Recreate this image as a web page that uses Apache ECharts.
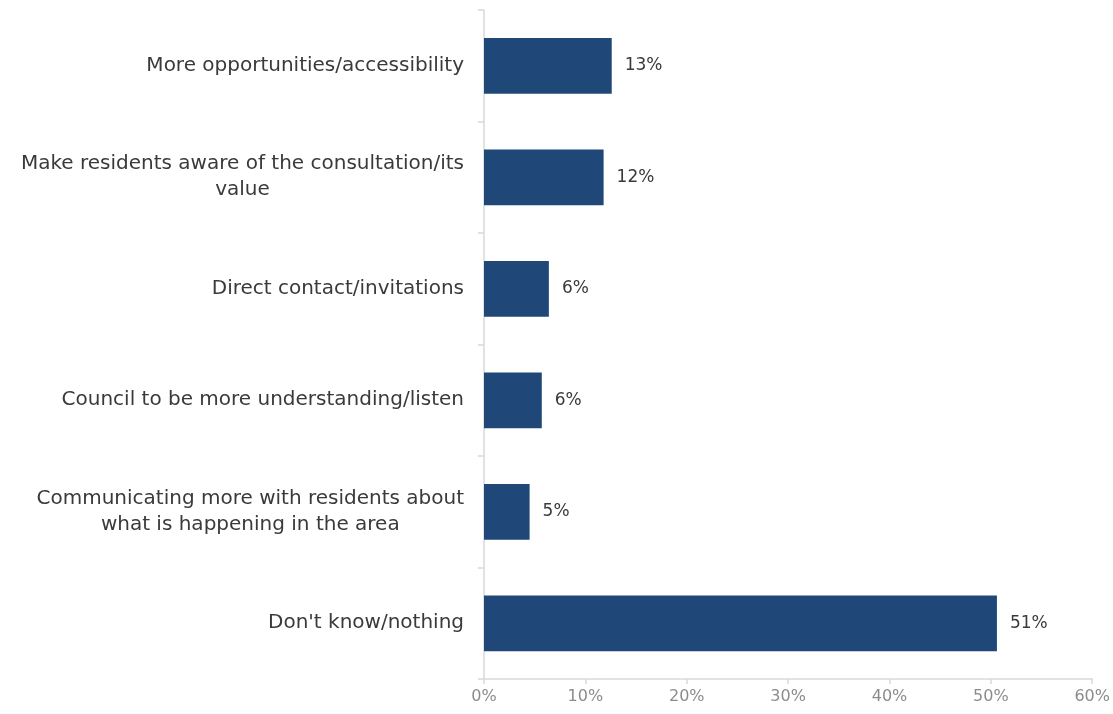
<!DOCTYPE html>
<html>
<head>
<meta charset="utf-8">
<script src="https://cdn.jsdelivr.net/npm/echarts@6/dist/echarts.min.js"></script>
<style>
  html, body { margin: 0; padding: 0; background: #ffffff; }
  #chart { width: 1113px; height: 714px; }
</style>
</head>
<body>
<div id="chart"></div>
<script>
// Suggested improvements to resident consultation (% of respondents)
const categories = [
  'More opportunities/accessibility',
  'Make residents aware of the consultation/its\nvalue',
  'Direct contact/invitations',
  'Council to be more understanding/listen',
  'Communicating more with residents about\nwhat is happening in the area',
  "Don't know/nothing"
];
const values = [12.6, 11.8, 6.4, 5.7, 4.5, 50.6];
const xTicks = { min: 0, max: 60, step: 10 };

const FONT = '"DejaVu Sans"';
const chart = echarts.init(document.getElementById('chart'));

chart.setOption({
  animation: false,
  grid: { left: 484, right: 18, top: 10, bottom: 35, containLabel: false },
  xAxis: {
    type: 'value',
    min: xTicks.min,
    max: xTicks.max,
    interval: xTicks.step,
    axisLine: { show: true, lineStyle: { color: '#d9d9d9', width: 1.5 } },
    axisTick: { show: true, length: 5, lineStyle: { color: '#d9d9d9', width: 1.5 } },
    splitLine: { show: false },
    axisLabel: {
      formatter: '{value}%',
      color: '#8c8c8c',
      fontFamily: FONT,
      fontSize: 16,
      margin: 10
    }
  },
  yAxis: {
    type: 'category',
    inverse: true,
    data: categories,
    axisLine: { show: true, lineStyle: { color: '#d9d9d9', width: 1.5 } },
    axisTick: { show: true, length: 6, lineStyle: { color: '#d9d9d9', width: 1.5 } },
    axisLabel: {
      margin: 20,
      align: 'right',
      formatter: function (v) {
        return v.split('\n').map(function (s) { return '{c|' + s + '}'; }).join('\n');
      },
      rich: {
        c: { align: 'center', color: '#3a3a3a', fontFamily: FONT, fontSize: 20, lineHeight: 26 }
      }
    }
  },
  series: [{
    type: 'bar',
    data: values,
    barWidth: '50%',
    itemStyle: { color: '#1f4879' },
    label: {
      show: true,
      position: 'right',
      distance: 13,
      color: '#3a3a3a',
      fontFamily: FONT,
      fontSize: 17,
      formatter: function (p) { return Math.round(p.value) + '%'; }
    }
  }]
});
</script>
</body>
</html>
